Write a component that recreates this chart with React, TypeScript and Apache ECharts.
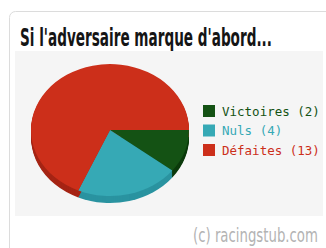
import React, { useEffect, useRef } from "react";
import * as echarts from "echarts";

const categories = ["Victoires", "Nuls", "Défaites"];
const values = [2, 4, 13];
const topColors = ["#145214", "#36a9b5", "#cc2f1a"];
const sideColors = ["#0b3a0b", "#2a93a0", "#a52414"];
const titleText = "Si l'adversaire marque d'abord...";
const watermark = "(c) racingstub.com";

const CX = 110;
const CY = 130;
const RX = 79;
const RY = 66;
const DEPTH = 7;

function measure(text: string, font: string): number {
  const c = document.createElement("canvas").getContext("2d")!;
  c.font = font;
  return c.measureText(text).width;
}

export default function App() {
  const ref = useRef<HTMLDivElement>(null);
  useEffect(() => {
    const chart = echarts.init(ref.current!, null, { renderer: "svg" });
    const total = values.reduce((a, b) => a + b, 0);
    const angles = (idx: number) => {
      let s = 0;
      for (let i = 0; i < idx; i++) s += values[i];
      const a0 = (s / total) * Math.PI * 2;
      const a1 = ((s + values[idx]) / total) * Math.PI * 2;
      return [a0, a1];
    };
    const data = categories.map((c, i) => ({ name: c, value: values[i] }));

    const titleFont = "bold 23px 'DejaVu Sans'";
    const titleScale = 252 / measure(titleText, titleFont);
    const wmFont = "17px 'DejaVu Sans'";
    const wmScale = 125 / measure(watermark, wmFont);

    const legendItems: any[] = [];
    categories.forEach((c, i) => {
      const y = 111 + i * 19.5;
      legendItems.push({
        type: "rect",
        shape: { x: 203, y: y - 6, width: 12, height: 12 },
        style: { fill: topColors[i] },
      });
      legendItems.push({
        type: "text",
        x: 222,
        y: y,
        style: {
          text: `${c} (${values[i]})`,
          fill: topColors[i],
          font: "12.5px 'DejaVu Sans Mono'",
          textVerticalAlign: "middle",
        },
      });
    });

    chart.setOption({
      animation: false,
      backgroundColor: "#ffffff",
      graphic: [
        {
          type: "rect",
          z: -10,
          shape: { x: 9.5, y: 11.5, width: 400, height: 300, r: 6 },
          style: { fill: "#ffffff", stroke: "#dcdcdc", lineWidth: 1 },
        },
        {
          type: "rect",
          z: -9,
          shape: { x: 15, y: 51, width: 308, height: 165 },
          style: { fill: "#f5f5f5" },
        },
        {
          type: "text",
          x: 20,
          y: 37,
          scaleX: titleScale,
          scaleY: 1.1,
          style: {
            text: titleText,
            fill: "#151515",
            font: titleFont,
            textVerticalAlign: "middle",
          },
        },
        {
          type: "text",
          x: 193,
          y: 235,
          scaleX: wmScale,
          scaleY: 1.15,
          style: {
            text: watermark,
            fill: "#b3b3b3",
            font: wmFont,
            textVerticalAlign: "middle",
          },
        },
        ...legendItems,
      ],
      series: [
        {
          type: "custom",
          coordinateSystem: "none",
          z: 1,
          data,
          renderItem: (params: any, api: any) => {
            const [a0, a1] = angles(params.dataIndex);
            const children: any[] = [];
            for (let d = DEPTH; d >= 1; d--) {
              children.push({
                type: "group",
                x: CX,
                y: CY + d,
                scaleY: RY / RX,
                children: [
                  {
                    type: "sector",
                    shape: { cx: 0, cy: 0, r: RX, r0: 0, startAngle: a0, endAngle: a1, clockwise: true },
                    style: { fill: sideColors[params.dataIndex] },
                  },
                ],
              });
            }
            return { type: "group", children };
          },
        },
        {
          type: "custom",
          coordinateSystem: "none",
          z: 2,
          data,
          renderItem: (params: any, api: any) => {
            const [a0, a1] = angles(params.dataIndex);
            return {
              type: "group",
              x: CX,
              y: CY,
              scaleY: RY / RX,
              children: [
                {
                  type: "sector",
                  shape: { cx: 0, cy: 0, r: RX, r0: 0, startAngle: a0, endAngle: a1, clockwise: true },
                  style: { fill: topColors[params.dataIndex] },
                },
              ],
            };
          },
        },
      ],
    });
    return () => chart.dispose();
  }, []);
  return (
    <div
      ref={ref}
      style={{ position: "fixed", left: 0, top: 0, width: 326, height: 248 }}
    />
  );
}
